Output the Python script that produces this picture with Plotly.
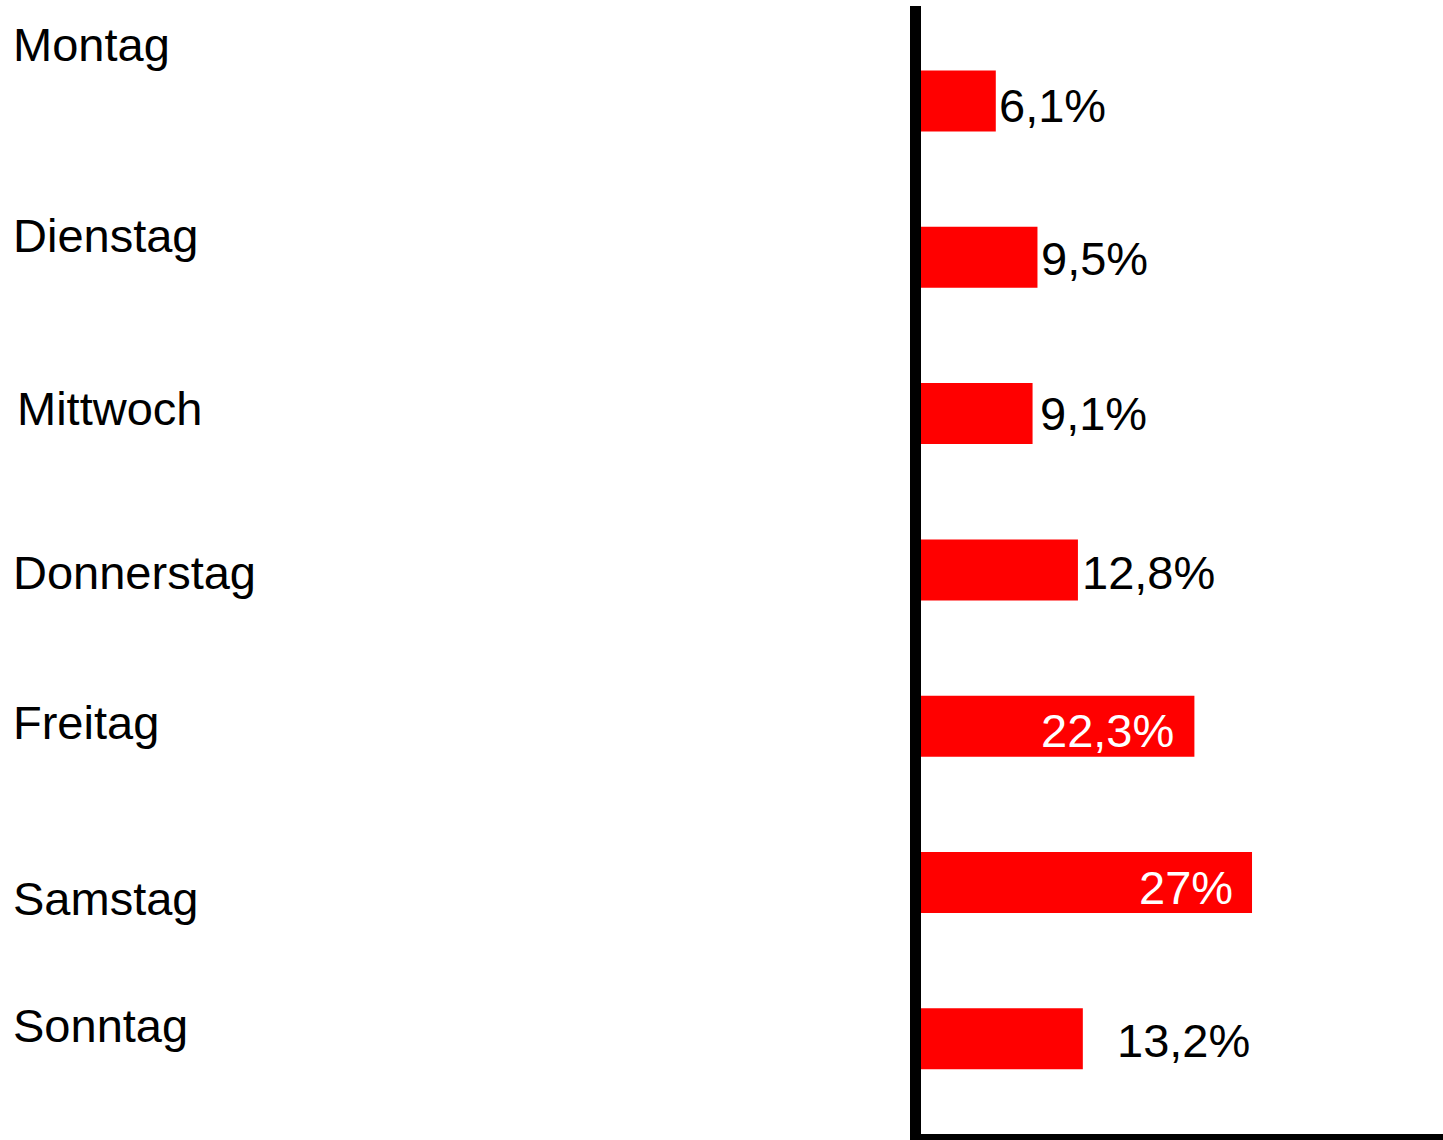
import plotly.graph_objects as go

# ---- data ----
days = ["Montag", "Dienstag", "Mittwoch", "Donnerstag", "Freitag", "Samstag", "Sonntag"]
shares = [6.1, 9.5, 9.1, 12.8, 22.3, 27.0, 13.2]

# ---- layout constants (pixels) ----
W, H = 1443, 1140
PLOT_L, PLOT_R, PLOT_T, PLOT_B = 921, 1443, 6, 1134
PW, PH = PLOT_R - PLOT_L, PLOT_B - PLOT_T
PX_PER_PCT = 12.26
FIRST_CENTER, CAT_STEP = 101, 156.3
# day label placement (pixel x of text start, pixel y of text centre)
label_x = [11, 11, 15, 11, 11, 11, 11]
label_y = [45, 235, 408, 572, 722, 898, 1025]
# value-label placement: inside (white, right-aligned) or outside, and pixel nudges
val_inside = [False, False, False, False, True, True, False]
val_xshift = [1, 2, 5, 2, -18, -17, 32]
val_yshift = [-4, -1, 0, -3, -4, -5, -2]

FONT = "Liberation Sans, Arial, sans-serif"
FS = 47

texts = [f"{v:g}".replace(".", ",") + "%" for v in shares]

fig = go.Figure(
    go.Bar(
        y=days,
        x=shares,
        orientation="h",
        marker=dict(color="#ff0000", line=dict(width=0)),
        hoverinfo="skip",
    )
)

top_val = -(FIRST_CENTER - PLOT_T) / CAT_STEP
bot_val = top_val + PH / CAT_STEP

annotations = []
for name, lx, ly in zip(days, label_x, label_y):
    annotations.append(
        dict(
            text=name,
            xref="paper",
            yref="paper",
            x=(lx - PLOT_L) / PW,
            y=(PLOT_B - ly) / PH,
            xanchor="left",
            yanchor="middle",
            showarrow=False,
            font=dict(size=FS, color="black", family=FONT),
        )
    )

for d, v, t, ins, dx, dy in zip(days, shares, texts, val_inside, val_xshift, val_yshift):
    annotations.append(
        dict(
            text=t,
            x=v,
            y=d,
            xref="x",
            yref="y",
            xanchor="right" if ins else "left",
            yanchor="middle",
            xshift=dx,
            yshift=dy,
            showarrow=False,
            font=dict(size=FS, color="white" if ins else "black", family=FONT),
        )
    )

fig.update_layout(
    width=W,
    height=H,
    margin=dict(l=PLOT_L, r=W - PLOT_R, t=PLOT_T, b=H - PLOT_B, autoexpand=False),
    paper_bgcolor="white",
    plot_bgcolor="white",
    showlegend=False,
    bargap=0.61,
    font=dict(family=FONT, size=FS, color="black"),
    annotations=annotations,
    xaxis=dict(
        range=[0, PW / PX_PER_PCT],
        showgrid=False,
        zeroline=False,
        showticklabels=False,
        ticks="",
        showline=True,
        linecolor="black",
        linewidth=11,
        fixedrange=True,
    ),
    yaxis=dict(
        type="category",
        categoryorder="array",
        categoryarray=days,
        range=[bot_val, top_val],
        showgrid=False,
        zeroline=False,
        showticklabels=False,
        ticks="",
        showline=True,
        linecolor="black",
        linewidth=11,
        fixedrange=True,
    ),
)

fig.write_html(
    "out.html",
    config={"displayModeBar": False},
    post_script="document.body.style.margin='0';document.body.style.overflow='hidden';",
)
